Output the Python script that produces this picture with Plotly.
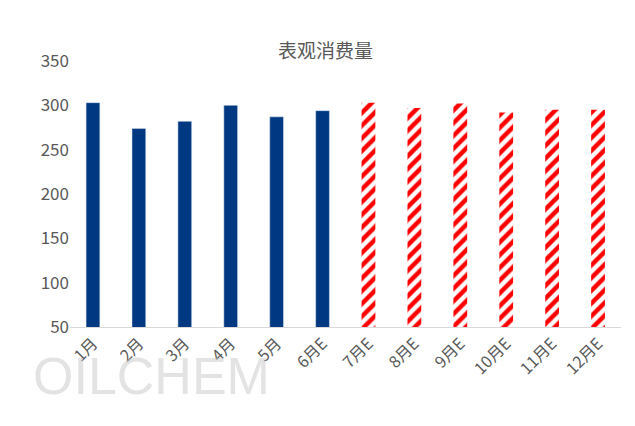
import plotly.graph_objects as go

months_actual = ["1月", "2月", "3月", "4月", "5月", "6月E"]
values_actual = [303, 274, 282, 300, 287, 294]
months_est = ["7月E", "8月E", "9月E", "10月E", "11月E", "12月E"]
values_est = [303, 297, 302, 292, 295, 295]
categories = months_actual + months_est

fig = go.Figure()
fig.add_bar(x=months_actual, y=values_actual, marker=dict(color="#003882"), width=0.3, opacity=1)
fig.add_bar(x=months_est, y=values_est, width=0.3, opacity=1,
            marker=dict(color="white", line=dict(width=0),
                        pattern=dict(shape="/", fgcolor="#FF0000", bgcolor="white",
                                     fgopacity=1, size=9, solidity=0.5)))
fig.update_layout(
    width=635, height=426, showlegend=False, barmode="relative",
    paper_bgcolor="white", plot_bgcolor="white",
    margin=dict(l=62, r=22, t=53, b=107),
    title=dict(text="表观消费量", x=0.5, xanchor="center", y=0.915,
               font=dict(family="Noto Sans CJK SC", size=19, color="#595959")),
    font=dict(family="Noto Sans CJK SC", color="#595959", size=16),
    xaxis=dict(categoryorder="array", categoryarray=categories, tickangle=-45,
               showline=True, linecolor="#D9D9D9", ticks="", tickfont=dict(size=16)),
    yaxis=dict(range=[50, 350], dtick=50, showgrid=False, zeroline=False,
               tickfont=dict(size=17)),
)
fig.add_annotation(text="OILCHEM", xref="paper", yref="paper", x=-0.07, y=-0.3,
                   xanchor="left", showarrow=False,
                   font=dict(family="Liberation Sans", size=52, color="rgba(200,200,200,0.5)"))
fig.write_html("out.html")
